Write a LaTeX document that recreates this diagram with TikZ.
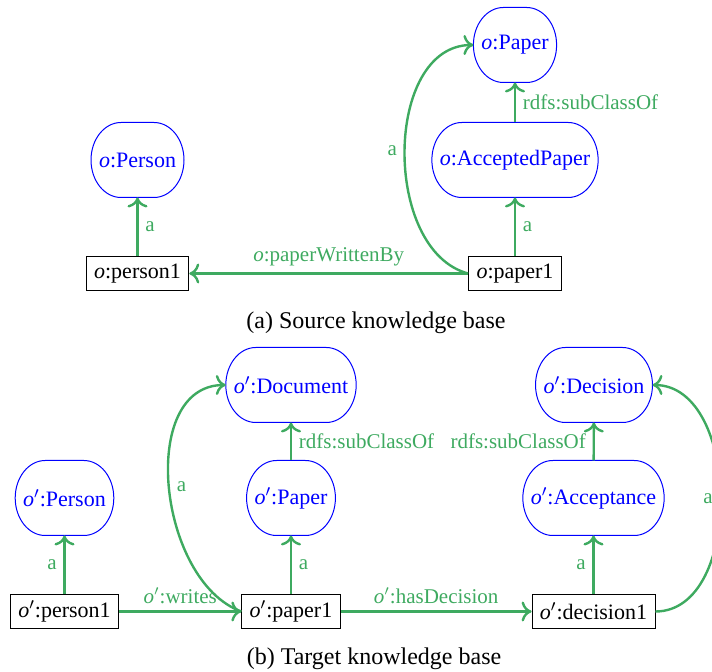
\documentclass[tikz,border=0pt]{standalone}
\usepackage{fontspec}
\setmainfont{Liberation Serif}
\usetikzlibrary{arrows.meta}
\definecolor{egreen}{RGB}{62,170,96}
\newcommand{\oo}{\textit{o}}
\newcommand{\op}{\textit{o}$'$}
\newcommand{\cnode}[3]{%
  \node[cls] (#1) at (#2) {#3};
  \draw[clsline] ([xshift=15pt]#1.north west) -- ([xshift=-15pt]#1.north east)
    arc[start angle=90,end angle=-90,x radius=15pt,y radius=18.75pt]
    -- ([xshift=15pt]#1.south west)
    arc[start angle=270,end angle=90,x radius=15pt,y radius=18.75pt] -- cycle;}
\begin{document}
\begin{tikzpicture}[x=0.5pt,y=-0.5pt,
  cls/.style={text=blue, minimum height=37.5pt, outer sep=0pt, inner xsep=4pt, font=\fontsize{11}{13}\selectfont},
  clsline/.style={draw=blue, line width=0.5pt},
  inst/.style={draw, minimum height=17pt, inner xsep=4pt, inner ysep=2pt, font=\fontsize{11}{13}\selectfont},
  rel/.style={draw=egreen, line width=1.2pt, -{Computer Modern Rightarrow[length=5pt,width=10pt]}},
  lbl/.style={text=egreen, font=\fontsize{10.5}{12}\selectfont},
  capt/.style={font=\fontsize{12}{14}\selectfont}]
\useasboundingbox (0,0) rectangle (712,672);
% (a) source
\cnode{sPaper}{515,45}{\oo:Paper}
\cnode{sAcc}{515,160}{\oo:AcceptedPaper}
\cnode{sPerson}{137.5,160}{\oo:Person}
\node[inst] (sPaper1) at (515,273.5) {\oo:paper1};
\node[inst] (sPerson1) at (137.5,273.5) {\oo:person1};
\node[capt] (capa) at (376,323) {(a) Source knowledge base};
\draw[rel] (sPerson1) -- node[midway,lbl,right]{a} (sPerson);
\draw[rel] (sPaper1) -- node[midway,lbl,right]{a} (sAcc);
\draw[rel] (sAcc) -- node[midway,lbl,right]{rdfs:subClassOf} (sPaper);
\draw[rel] (sPaper1) -- node[midway,lbl,above]{\oo:paperWrittenBy} (sPerson1);
\draw[rel] (sPaper1.west) to[out=165,in=180] node[midway,lbl,left]{a} (sPaper.west);
% (b) target
\cnode{tDoc}{291,385}{\op:Document}
\cnode{tDec}{594,385}{\op:Decision}
\cnode{tPerson}{64.5,498}{\op:Person}
\cnode{tPaper}{291,498}{\op:Paper}
\cnode{tAcc}{593.5,498}{\op:Acceptance}
\node[inst] (tPerson1) at (64.5,611.5) {\op:person1};
\node[inst] (tPaper1) at (291,611.5) {\op:paper1};
\node[inst] (tDec1) at (593.5,611.5) {\op:decision1};
\node[capt] (capb) at (374,659) {(b) Target knowledge base};
\draw[rel] (tPerson1) -- node[midway,lbl,left]{a} (tPerson);
\draw[rel] (tPaper1) -- node[midway,lbl,right]{a} (tPaper);
\draw[rel] (tPaper) -- node[midway,lbl,right]{rdfs:subClassOf} (tDoc);
\draw[rel] (tDec1) -- node[midway,lbl,left]{a} (tAcc);
\draw[rel] (tAcc) -- node[midway,lbl,left]{rdfs:subClassOf} (tDec);
\draw[rel] (tPerson1) -- node[midway,lbl,above]{\op:writes} (tPaper1);
\draw[rel] (tPaper1) -- node[midway,lbl,above]{\op:hasDecision} (tDec1);
\draw[rel] (tPaper1.west) to[out=160,in=180] node[midway,lbl,right]{a} (tDoc.west);
\draw[rel] (tDec1.east) to[out=0,in=0] node[midway,lbl,left]{a} (tDec.east);
\end{tikzpicture}
\end{document}
